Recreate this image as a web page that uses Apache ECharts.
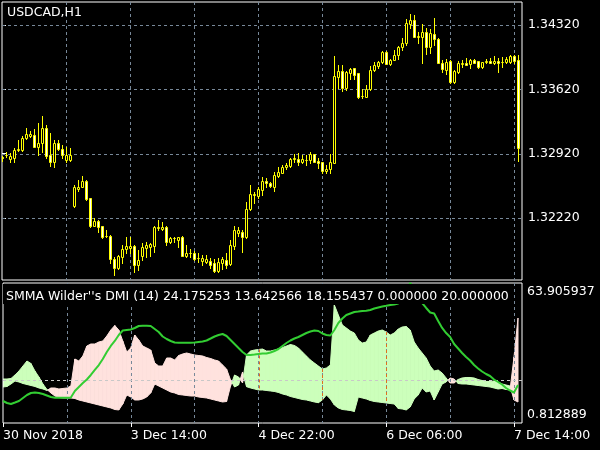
<!DOCTYPE html>
<html><head><meta charset="utf-8">
<script src="https://cdn.jsdelivr.net/npm/echarts@6/dist/echarts.min.js"></script>
<style>html,body{margin:0;padding:0;background:#000}#c{width:600px;height:450px}</style>
</head><body><div id="c"></div>
<script>
const symbolTitle = 'USDCAD,H1';
const indicatorTitle = "SMMA Wilder''s DMI (14) 24.175253 13.642566 18.155437 0.000000 20.000000";

const openP = [1.32884,1.32906,1.32862,1.32873,1.32960,1.32960,1.33091,1.33112,1.33123,1.32993,
1.33036,1.33199,1.32906,1.32829,1.33036,1.32971,1.32851,1.32851,1.32351,1.32536,
1.32557,1.32623,1.32438,1.32133,1.32188,1.32133,1.32024,1.32024,1.31774,1.31676,
1.31796,1.31883,1.31894,1.31916,1.31709,1.31807,1.31894,1.31905,1.31916,1.32111,
1.32100,1.32122,1.31959,1.32003,1.31981,1.32013,1.31807,1.31839,1.31839,1.31785,
1.31752,1.31741,1.31752,1.31731,1.31644,1.31731,1.31763,1.31720,1.31916,1.32057,
1.32068,1.32013,1.32318,1.32470,1.32460,1.32525,1.32623,1.32601,1.32557,1.32677,
1.32710,1.32775,1.32786,1.32862,1.32862,1.32829,1.32851,1.32851,1.32916,1.32840,
1.32829,1.32732,1.32753,1.32819,1.33754,1.33820,1.33635,1.33798,1.33852,1.33798,
1.33548,1.33537,1.33624,1.33830,1.33874,1.33917,1.34026,1.33896,1.33939,1.33994,
1.34081,1.34124,1.34331,1.34374,1.34189,1.34189,1.34244,1.34081,1.34222,1.34168,
1.33907,1.33830,1.33928,1.33700,1.33809,1.33896,1.33907,1.33896,1.33939,1.33928,
1.33863,1.33917,1.33928,1.33907,1.33928,1.33917,1.33917,1.33917,1.33983,1.33939];
const highP = [1.32895,1.32938,1.32927,1.32982,1.33069,1.33112,1.33199,1.33167,1.33188,1.33254,
1.33330,1.33232,1.33145,1.33069,1.33069,1.33014,1.32993,1.32982,1.32579,1.32634,
1.32677,1.32634,1.32438,1.32220,1.32198,1.32133,1.32090,1.32035,1.31796,1.31818,
1.31926,1.32013,1.32013,1.31926,1.31872,1.31948,1.31959,1.31948,1.32133,1.32198,
1.32177,1.32133,1.32013,1.32013,1.32013,1.32024,1.31926,1.31883,1.31861,1.31839,
1.31818,1.31818,1.31785,1.31774,1.31785,1.31796,1.31839,1.31981,1.32133,1.32122,
1.32090,1.32394,1.32579,1.32503,1.32557,1.32666,1.32655,1.32612,1.32721,1.32775,
1.32797,1.32819,1.32873,1.32916,1.32927,1.32906,1.32906,1.32938,1.32916,1.32873,
1.32829,1.32797,1.32916,1.33983,1.33885,1.33885,1.33820,1.33852,1.33852,1.33798,
1.33624,1.33667,1.33874,1.33917,1.33928,1.34037,1.34037,1.33950,1.34048,1.34092,
1.34179,1.34385,1.34440,1.34429,1.34244,1.34331,1.34287,1.34276,1.34396,1.34179,
1.33939,1.33950,1.33939,1.33830,1.33928,1.33939,1.33961,1.33950,1.33950,1.33928,
1.33917,1.33950,1.33961,1.33983,1.33961,1.33972,1.33972,1.33994,1.33994,1.33994];
const lowP = [1.32840,1.32884,1.32829,1.32829,1.32949,1.32949,1.33080,1.33101,1.32993,1.32906,
1.32938,1.32873,1.32786,1.32775,1.32960,1.32873,1.32829,1.32840,1.32340,1.32514,
1.32557,1.32416,1.32122,1.32133,1.32068,1.32003,1.32013,1.31731,1.31600,1.31665,
1.31731,1.31839,1.31839,1.31633,1.31654,1.31763,1.31796,1.31807,1.31850,1.32090,
1.32090,1.31926,1.31948,1.31959,1.31905,1.31807,1.31796,1.31796,1.31763,1.31741,
1.31709,1.31731,1.31676,1.31633,1.31633,1.31665,1.31676,1.31709,1.31883,1.32024,
1.31850,1.32003,1.32307,1.32383,1.32438,1.32470,1.32557,1.32557,1.32514,1.32666,
1.32710,1.32753,1.32775,1.32829,1.32797,1.32819,1.32797,1.32819,1.32829,1.32764,
1.32710,1.32710,1.32710,1.32819,1.33635,1.33602,1.33613,1.33732,1.33732,1.33526,
1.33526,1.33537,1.33613,1.33820,1.33852,1.33907,1.33896,1.33885,1.33939,1.33950,
1.34048,1.34102,1.34287,1.34189,1.34124,1.33907,1.34004,1.34015,1.34102,1.33907,
1.33809,1.33787,1.33689,1.33689,1.33798,1.33863,1.33885,1.33852,1.33907,1.33852,
1.33852,1.33907,1.33907,1.33896,1.33809,1.33863,1.33907,1.33907,1.33907,1.32840];
const closeP = [1.32873,1.32903,1.32895,1.32960,1.32971,1.33091,1.33129,1.33134,1.32993,1.33036,
1.33199,1.32895,1.32829,1.33036,1.32971,1.32906,1.32906,1.32906,1.32557,1.32557,
1.32623,1.32427,1.32133,1.32188,1.32122,1.32013,1.32020,1.31774,1.31676,1.31807,
1.31883,1.31916,1.31916,1.31709,1.31763,1.31905,1.31926,1.31937,1.32122,1.32122,
1.32122,1.31959,1.32003,1.32000,1.32013,1.31807,1.31839,1.31835,1.31774,1.31781,
1.31785,1.31774,1.31709,1.31644,1.31741,1.31774,1.31709,1.31926,1.32090,1.32090,
1.32013,1.32318,1.32481,1.32481,1.32536,1.32623,1.32601,1.32568,1.32688,1.32721,
1.32775,1.32797,1.32862,1.32873,1.32829,1.32862,1.32848,1.32916,1.32829,1.32819,
1.32732,1.32753,1.32829,1.33765,1.33820,1.33635,1.33809,1.33841,1.33776,1.33537,
1.33544,1.33624,1.33830,1.33885,1.33917,1.34026,1.33896,1.33939,1.33994,1.34081,
1.34124,1.34342,1.34374,1.34189,1.34200,1.34244,1.34081,1.34233,1.34168,1.33907,
1.33841,1.33917,1.33700,1.33820,1.33907,1.33907,1.33885,1.33939,1.33907,1.33863,
1.33917,1.33928,1.33907,1.33928,1.33907,1.33913,1.33950,1.33983,1.33928,1.32982];

const adx = [10.73,9.83,9.38,10.05,10.73,12.08,13.43,14.33,14.56,14.33,
13.88,13.21,12.53,12.22,12.22,12.22,12.22,12.31,15.24,17.04,
18.84,20.42,22.45,24.70,26.95,29.66,32.81,35.52,37.77,40.47,
42.50,42.73,42.95,43.63,44.53,44.66,44.66,44.53,43.18,41.82,
39.80,38.67,37.77,37.09,37.00,37.00,37.00,37.00,37.09,37.32,
37.54,37.99,38.89,39.80,40.47,40.92,40.02,38.22,36.42,34.61,
32.81,31.46,31.46,31.68,31.91,32.13,32.13,32.59,33.26,34.16,
35.52,36.87,37.99,38.89,39.57,40.47,41.37,42.05,42.50,42.27,
41.15,40.47,40.25,42.73,45.88,47.91,49.48,50.16,50.84,51.06,
51.29,51.42,51.74,52.41,52.86,53.31,53.63,53.99,54.22,54.67,
57.15,60.75,63.906,61.65,58.05,54.89,52.64,50.61,50.16,46.78,
43.63,41.37,39.57,36.42,34.39,32.36,30.56,28.98,26.95,25.38,
24.02,22.90,22.00,20.42,19.29,18.17,16.59,15.46,14.56,17.94];
const diPlus = [20.64,20.64,20.87,22.45,24.25,26.50,28.75,27.63,24.25,21.55,
18.39,15.92,14.34,12.98,12.31,12.08,12.08,12.08,11.86,11.18,
10.73,10.28,9.83,9.38,8.93,8.48,8.03,7.58,6.90,6.68,
9.38,13.44,12.53,11.18,11.18,11.63,12.53,14.34,18.39,17.49,
16.59,15.69,14.79,14.34,13.66,13.44,13.21,12.98,12.98,12.53,
12.31,12.08,11.63,11.18,10.73,10.28,10.51,17.49,22.45,21.55,
18.84,31.46,33.26,33.71,33.94,34.16,33.26,33.26,33.71,34.16,
34.84,35.52,36.19,35.74,34.62,32.81,31.01,29.21,27.85,26.50,
25.15,25.60,26.95,53.99,49.49,44.98,43.63,42.27,41.37,38.22,
36.87,37.32,40.47,41.37,42.27,42.73,41.82,40.47,41.37,43.18,
44.08,44.30,42.73,37.32,34.62,32.36,30.11,26.50,24.25,24.70,
23.35,21.10,18.84,18.84,20.42,21.10,21.32,21.32,21.10,20.42,
19.97,19.52,19.52,19.74,19.29,18.39,17.94,17.49,11.18,10.28];
const diMinus = [17.04,17.27,18.39,19.74,19.29,18.62,18.17,17.72,17.27,16.59,
16.14,15.47,16.59,16.59,16.14,16.37,16.59,17.49,29.66,28.75,
31.01,35.52,36.42,36.42,37.32,37.77,40.02,42.73,44.75,42.73,
37.77,32.81,34.62,40.47,38.22,35.52,34.62,33.71,27.85,26.50,
26.50,30.11,30.11,29.21,31.23,31.91,32.36,31.91,31.46,31.23,
31.01,30.33,29.88,29.21,28.75,26.95,25.15,20.19,17.04,17.94,
23.80,17.18,16.59,16.14,15.69,15.69,15.47,15.24,15.02,14.56,
13.89,13.44,12.76,12.31,11.86,11.41,11.18,10.73,10.28,9.96,
11.18,13.44,11.63,8.93,7.58,6.90,6.68,6.45,6.00,12.53,
12.08,11.63,10.96,10.51,10.28,10.06,9.83,9.60,9.38,7.35,
7.13,6.68,8.03,11.63,13.44,16.59,14.79,15.24,11.18,14.79,
18.39,19.29,21.10,20.64,18.62,18.39,18.39,18.17,17.94,17.72,
17.49,17.27,17.04,16.59,16.14,16.37,15.92,15.69,30.56,48.13];

const priceTicks = [1.32220, 1.32920, 1.33620, 1.34320];
const timeTickIdx = [0, 32, 64, 96, 128];
const timeTickText = ['30 Nov 2018', '3 Dec 14:00', '4 Dec 22:00', '6 Dec 06:00', '7 Dec 14:00'];
const dmiRange = [0.812889, 63.905937];
const levels = [20];

const FONT = '"DejaVu Sans", sans-serif';
const GRIDC = '#778899';
const GREEN = '#ccffbb';
const PINK = '#ffe2de';
const YEL = '#ffff00';

const candleData = openP.map((o, i) => [i, o, highP[i], lowP[i], closeP[i]]);
const bandData = diPlus.map((p, i) => [i, p, diMinus[i]]);
const adxData = adx.map((v, i) => [i, v]);

function renderCandle(params, api) {
  const i = api.value(0);
  const o = api.coord([i, api.value(1)]);
  const h = api.coord([i, api.value(2)]);
  const l = api.coord([i, api.value(3)]);
  const c = api.coord([i, api.value(4)]);
  const cx = Math.floor(o[0]) + 0.5;
  const up = api.value(4) >= api.value(1);
  const top = Math.round(Math.min(o[1], c[1])) + 0.5;
  const bot = Math.round(Math.max(o[1], c[1])) + 0.5;
  return {type: 'group', children: [
    {type: 'line', shape: {x1: cx, y1: Math.round(h[1]), x2: cx, y2: Math.round(l[1]) + 1},
     style: {stroke: YEL, lineWidth: 1}},
    {type: 'rect', shape: {x: cx - 1, y: top, width: 2, height: bot - top},
     style: {fill: up ? '#000' : '#fff', stroke: YEL, lineWidth: 1}}
  ]};
}
function poly(points, color) {
  return {type: 'polygon', shape: {points: points},
          style: {fill: color, stroke: color, lineWidth: 1, lineJoin: 'round'}};
}
// filled band between the two DI values, one segment between consecutive bars
function renderBand(params, api) {
  const i = api.value(0);
  const n = diPlus.length;
  if (i >= n - 1) return null;
  const p0 = diPlus[i], m0 = diMinus[i], p1 = diPlus[i + 1], m1 = diMinus[i + 1];
  const P0 = api.coord([i, p0]), M0 = api.coord([i, m0]);
  const P1 = api.coord([i + 1, p1]), M1 = api.coord([i + 1, m1]);
  const d0 = p0 - m0, d1 = p1 - m1;
  const c0 = d0 >= 0 ? GREEN : PINK, c1 = d1 >= 0 ? GREEN : PINK;
  if (d0 * d1 >= 0) {
    return poly([P0, P1, M1, M0], c0);
  }
  const t = d0 / (d0 - d1);
  const X = api.coord([i + t, p0 + t * (p1 - p0)]);
  return {type: 'group', children: [poly([P0, X, M0], c0), poly([X, P1, M1], c1)]};
}
function renderGridOnBand(params, api) {
  const i = api.value(0);
  const p = api.value(1), m = api.value(2);
  if (i % 16 !== 0 || i === 0 || p < m) return null;
  const a = api.coord([i, p]), b = api.coord([i, m]);
  const x = Math.round(a[0]) + 0.5;
  return {type: 'line', shape: {x1: x, y1: a[1], x2: x, y2: b[1]},
          style: {stroke: '#e0701e', lineWidth: 1, lineDash: [3, 3]}};
}
function makeHLine(color) {
  return function (params, api) {
    const v = api.value(1);
    const a = api.coord([0, v]), b = api.coord([130, v]);
    const y = Math.round(a[1]) + 0.5;
    return {type: 'line', shape: {x1: a[0], y1: y, x2: b[0], y2: y},
            style: {stroke: color, lineWidth: 1, lineDash: [3, 3]}};
  };
}

const chart = echarts.init(document.getElementById('c'), null, {renderer: 'canvas'});
const xBase = {type: 'value', min: 0, max: 130, interval: 16,
  axisLine: {show: false}, axisTick: {show: false}, axisLabel: {show: false},
  splitLine: {show: true, showMinLine: false, showMaxLine: false,
    lineStyle: {color: GRIDC, width: 1, type: [3, 3]}}};

chart.setOption({
  animation: false,
  backgroundColor: '#000',
  grid: [
    {left: 2, top: 2, width: 520, height: 278, show: true, borderColor: '#fff', borderWidth: 1, backgroundColor: 'transparent', containLabel: false},
    {left: 2, top: 283, width: 520, height: 140, show: true, borderColor: '#fff', borderWidth: 1, backgroundColor: 'transparent', containLabel: false}
  ],
  xAxis: [
    Object.assign({gridIndex: 0}, xBase),
    Object.assign({gridIndex: 1}, xBase),
    {gridIndex: 1, type: 'value', min: 0, max: 130, position: 'bottom',
     axisLine: {show: false}, splitLine: {show: false},
     axisTick: {show: true, customValues: timeTickIdx, length: 4, lineStyle: {color: '#fff'}},
     axisLabel: {show: true, customValues: timeTickIdx, align: 'left', margin: 6,
       color: '#fff', fontFamily: FONT, fontSize: 12.5,
       formatter: v => timeTickText[timeTickIdx.indexOf(Math.round(v))] || ''}}
  ],
  yAxis: [
    {gridIndex: 0, type: 'value', position: 'right', min: 1.315456, max: 1.345702,
     axisLine: {show: false}, splitLine: {show: false},
     axisTick: {show: true, customValues: priceTicks, length: 4, lineStyle: {color: '#fff'}},
     axisLabel: {show: true, customValues: priceTicks, margin: 6, color: '#fff',
       fontFamily: FONT, fontSize: 12.5, formatter: v => v.toFixed(5)}},
    {gridIndex: 1, type: 'value', position: 'right', min: dmiRange[0], max: dmiRange[1],
     axisLine: {show: false}, splitLine: {show: false}, axisTick: {show: false},
     axisLabel: {show: true, customValues: dmiRange, margin: 5, color: '#fff',
       fontFamily: FONT, fontSize: 12.5,
       formatter: v => (v > 30 ? '{t|' : '{b|') + v.toFixed(6) + '}',
       rich: {t: {padding: [17, 0, 0, 0], color: '#fff', fontFamily: FONT, fontSize: 12.5},
              b: {padding: [0, 0, 16, 0], color: '#fff', fontFamily: FONT, fontSize: 12.5}}}}
  ],
  series: [
    {type: 'custom', xAxisIndex: 0, yAxisIndex: 0, data: priceTicks.map(v => [0, v]),
     encode: {x: 0, y: 1}, renderItem: makeHLine(GRIDC), z: 1, silent: true},
    {type: 'custom', xAxisIndex: 0, yAxisIndex: 0, data: candleData, renderItem: renderCandle,
     encode: {x: 0, y: [1, 2, 3, 4]}, z: 2, silent: true, clip: true},
    {type: 'custom', xAxisIndex: 1, yAxisIndex: 1, data: bandData, renderItem: renderBand,
     encode: {x: 0, y: [1, 2]}, z: -1, silent: true, clip: true},
    {type: 'custom', xAxisIndex: 1, yAxisIndex: 1, data: bandData, renderItem: renderGridOnBand,
     encode: {x: 0, y: [1, 2]}, z: 3, silent: true, clip: true},
    {type: 'custom', xAxisIndex: 1, yAxisIndex: 1, data: levels.map(v => [0, v]),
     encode: {x: 0, y: 1}, renderItem: makeHLine('#c8c8c8'), z: 3, silent: true},
    {type: 'line', xAxisIndex: 1, yAxisIndex: 1, data: adxData, z: 4, silent: true,
     showSymbol: false, lineStyle: {color: '#32cd32', width: 2}}
  ],
  graphic: [
    {type: 'text', left: 7, top: 6, z: 10, silent: true,
     style: {text: symbolTitle, fill: '#fff', font: '12.5px ' + FONT, lineHeight: 14}},
    {type: 'text', left: 3, top: 284, z: 10, silent: true,
     style: {text: indicatorTitle, fill: '#fff', font: '12.5px ' + FONT, lineHeight: 14,
       backgroundColor: '#000', padding: [6, 3, 0, 3]}}
  ]
});
</script></body></html>
